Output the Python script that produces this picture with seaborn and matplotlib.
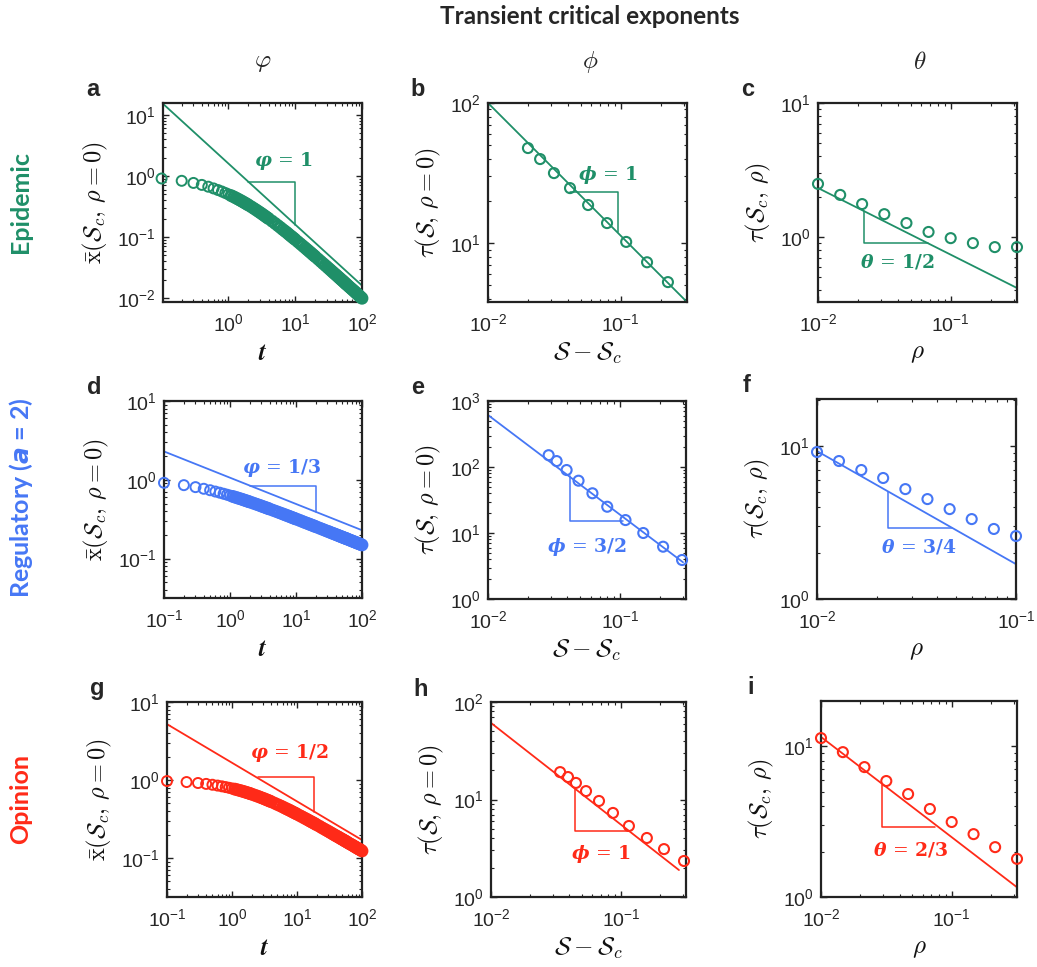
import numpy as np
import pandas as pd
import seaborn as sns
import matplotlib.pyplot as plt
from matplotlib.ticker import LogLocator, NullFormatter

W, H = 1037, 967

GREEN = "#1f8f68"
BLUE = "#4677f5"
RED = "#ff2a18"

# ---- data ----
# time grid of the relaxation curves (panels a, d, g)
t_vals = [0.1, 0.2, 0.3, 0.4, 0.5, 0.6, 0.7, 0.8, 0.9, 1.0,
          1.1, 1.2, 1.3, 1.4, 1.5, 1.6, 1.7, 1.8, 1.9, 2.0,
          2.2, 2.4, 2.6, 2.8, 3.0, 3.2, 3.4, 3.6, 3.8, 4.0,
          4.5, 5.0, 5.5, 6.0, 6.5, 7.0, 7.5, 8.0, 8.5, 9.0, 9.5, 10,
          11, 12, 13, 14, 15, 16, 17, 18, 19, 20,
          22, 24, 26, 28, 30, 32, 34, 36, 38, 40, 42, 44, 46, 48, 50, 52, 54, 56, 58, 60,
          63, 66, 69, 72, 75, 78, 81, 84, 87, 90, 93, 96, 100]

x_epidemic = [0.909, 0.833, 0.769, 0.714, 0.667, 0.625, 0.588, 0.556, 0.526, 0.500,
              0.476, 0.455, 0.435, 0.417, 0.400, 0.385, 0.370, 0.357, 0.345, 0.333,
              0.313, 0.294, 0.278, 0.263, 0.250, 0.238, 0.227, 0.217, 0.208, 0.200,
              0.182, 0.167, 0.154, 0.143, 0.133, 0.125, 0.118, 0.111, 0.105, 0.100, 0.0952, 0.0909,
              0.0833, 0.0769, 0.0714, 0.0667, 0.0625, 0.0588, 0.0556, 0.0526, 0.0500, 0.0476,
              0.0435, 0.0400, 0.0370, 0.0345, 0.0323, 0.0303, 0.0286, 0.0270, 0.0256, 0.0244,
              0.0233, 0.0222, 0.0213, 0.0204, 0.0196, 0.0189, 0.0182, 0.0175, 0.0169, 0.0164,
              0.0156, 0.0149, 0.0143, 0.0137, 0.0132, 0.0127, 0.0122, 0.0118, 0.0114, 0.0110,
              0.0106, 0.0103, 0.0099]

x_regulatory = [0.916, 0.855, 0.807, 0.769, 0.737, 0.709, 0.686, 0.665, 0.647, 0.630,
                0.615, 0.601, 0.589, 0.577, 0.567, 0.557, 0.547, 0.539, 0.530, 0.523,
                0.509, 0.496, 0.485, 0.474, 0.464, 0.455, 0.447, 0.439, 0.432, 0.425,
                0.410, 0.397, 0.385, 0.375, 0.365, 0.357, 0.349, 0.342, 0.335, 0.329, 0.323, 0.318,
                0.309, 0.300, 0.292, 0.285, 0.279, 0.273, 0.268, 0.263, 0.258, 0.254,
                0.246, 0.239, 0.233, 0.227, 0.222, 0.218, 0.213, 0.209, 0.206, 0.202,
                0.199, 0.196, 0.193, 0.190, 0.188, 0.185, 0.183, 0.181, 0.179, 0.177,
                0.174, 0.171, 0.169, 0.166, 0.164, 0.162, 0.160, 0.158, 0.156, 0.155,
                0.153, 0.151, 0.149]

x_opinion = [0.969, 0.941, 0.915, 0.891, 0.869, 0.848, 0.829, 0.811, 0.794, 0.778,
             0.764, 0.750, 0.736, 0.724, 0.712, 0.700, 0.689, 0.679, 0.669, 0.659,
             0.641, 0.625, 0.610, 0.595, 0.582, 0.570, 0.558, 0.547, 0.537, 0.527,
             0.505, 0.485, 0.468, 0.452, 0.437, 0.424, 0.413, 0.402, 0.391, 0.382, 0.373, 0.365,
             0.350, 0.337, 0.325, 0.315, 0.305, 0.296, 0.288, 0.281, 0.274, 0.267,
             0.256, 0.245, 0.236, 0.228, 0.221, 0.214, 0.208, 0.202, 0.197, 0.192,
             0.188, 0.184, 0.180, 0.176, 0.173, 0.170, 0.166, 0.164, 0.161, 0.158,
             0.154, 0.151, 0.148, 0.145, 0.142, 0.139, 0.137, 0.134, 0.132, 0.130,
             0.128, 0.126, 0.123]

# tau versus S - S_c (panels b, e, h)
ds_epidemic = [0.0200, 0.0247, 0.0314, 0.0415, 0.0568, 0.0789, 0.110, 0.158, 0.227]
tau_s_epidemic = [47.7, 39.8, 31.6, 24.7, 18.7, 13.9, 10.2, 7.30, 5.27]
ds_regulatory = [0.0288, 0.0331, 0.0394, 0.0485, 0.0618, 0.080, 0.110, 0.150, 0.212, 0.295]
tau_s_regulatory = [151, 123, 90, 62, 40, 25, 15.7, 10.0, 6.2, 3.9]
ds_opinion = [0.034, 0.0391, 0.045, 0.0538, 0.0677, 0.0867, 0.115, 0.158, 0.214, 0.305]
tau_s_opinion = [19.1, 17.0, 14.8, 12.2, 9.66, 7.28, 5.35, 4.03, 3.10, 2.34]

# tau versus rho (panels c, f, i)
rho_wide = [0.01, 0.0147, 0.0215, 0.0316, 0.0464, 0.0681, 0.1, 0.147, 0.215, 0.316]
rho_narrow = [0.01, 0.0129, 0.0167, 0.0215, 0.0278, 0.0359, 0.0464, 0.0599, 0.0774, 0.1]
tau_rho_epidemic = [2.49, 2.06, 1.76, 1.48, 1.27, 1.09, 0.98, 0.90, 0.84, 0.84]
tau_rho_regulatory = [9.14, 7.98, 6.97, 6.18, 5.23, 4.50, 3.87, 3.33, 2.87, 2.58]
tau_rho_opinion = [11.3, 9.12, 7.26, 5.87, 4.81, 3.83, 3.14, 2.61, 2.14, 1.79]

# power-law guide lines (end points) and slope triangles
fit_x = {"a": [0.1, 100], "b": [0.01, 0.316], "c": [0.01, 0.316],
         "d": [0.1, 100], "e": [0.01, 0.3], "f": [0.01, 0.1],
         "g": [0.1, 100], "h": [0.01, 0.279], "i": [0.01, 0.316]}
fit_y = {"a": [16, 0.016], "b": [100, 3.8], "c": [2.32, 0.416],
         "d": [2.29, 0.229], "e": [613, 3.6], "f": [9.27, 1.69],
         "g": [5.2, 0.17], "h": [61, 1.89], "i": [11.5, 1.16]}
tri_x = {"a": [2, 10], "b": [0.0415, 0.0955], "c": [0.0223, 0.067],
         "d": [2, 20], "e": [0.0415, 0.105], "f": [0.0227, 0.0476],
         "g": [2.5, 18], "h": [0.0443, 0.113], "i": [0.0293, 0.0747]}
tri_y = {"a": [0.8, 0.16], "b": [23.1, 12.0], "c": [1.55, 0.90],
         "d": [0.84, 0.39], "e": [72, 15], "f": [5.0, 2.91],
         "g": [1.1, 0.39], "h": [13.1, 4.75], "i": [5.52, 2.91]}
exp_labels = {"a": r"$\mathbfit{\varphi}\,=\,\mathbf{1}$",
              "b": r"$\mathbfit{\phi}\,=\,\mathbf{1}$",
              "c": r"$\mathbfit{\theta}\,=\,\mathbf{1/2}$",
              "d": r"$\mathbfit{\varphi}\,=\,\mathbf{1/3}$",
              "e": r"$\mathbfit{\phi}\,=\,\mathbf{3/2}$",
              "f": r"$\mathbfit{\theta}\,=\,\mathbf{3/4}$",
              "g": r"$\mathbfit{\varphi}\,=\,\mathbf{1/2}$",
              "h": r"$\mathbfit{\phi}\,=\,\mathbf{1}$",
              "i": r"$\mathbfit{\theta}\,=\,\mathbf{2/3}$"}
label_xy = {"a": (6.7, 1.76), "b": (0.08, 30.6), "c": (0.0397, 0.65),
            "d": (6.1, 1.42), "e": (0.056, 6.1), "f": (0.0325, 2.19),
            "g": (7.8, 2.2), "h": (0.07, 2.76), "i": (0.048, 2.05)}

row_colors = [GREEN, BLUE, RED]
col_titles = [r"$\varphi$", r"$\phi$", r"$\theta$"]

# axes boxes in pixels: left, top, right, bottom
boxes = {"a": (163, 103, 362, 302), "b": (488, 103, 687, 302), "c": (818, 103, 1017, 302),
         "d": (164, 401, 362, 598), "e": (488, 401, 686, 599), "f": (817, 399, 1016, 599),
         "g": (167, 702, 362, 897), "h": (491, 702, 686, 897), "i": (821, 701, 1017, 897)}
limits = {"a": ((0.105, 100), (0.0086, 15.7)), "b": ((0.01, 0.316), (3.8, 100)),
          "c": ((0.01, 0.316), (0.327, 10)), "d": ((0.1, 100), (0.0316, 10)),
          "e": ((0.01, 0.316), (1, 1000)), "f": ((0.01, 0.1), (1, 20.3)),
          "g": ((0.1, 100), (0.0316, 10)), "h": ((0.01, 0.316), (1, 100)),
          "i": ((0.01, 0.316), (1, 19.9))}

sns.set_style("ticks")
plt.rcParams["font.family"] = ["Liberation Sans", "DejaVu Sans"]
plt.rcParams["mathtext.fontset"] = "cm"
plt.rcParams["axes.unicode_minus"] = False

TICK_GRAY = "#262626"


def style_axes(ax, xlim, ylim):
    ax.set_xscale("log")
    ax.set_yscale("log")
    ax.set_xlim(xlim)
    ax.set_ylim(ylim)
    for axis in (ax.xaxis, ax.yaxis):
        axis.set_major_locator(LogLocator(base=10))
        axis.set_minor_locator(LogLocator(base=10, subs=np.arange(2, 10)))
        axis.set_minor_formatter(NullFormatter())
    ax.tick_params(which="both", direction="in", top=True, right=True,
                   color="#222222", labelcolor=TICK_GRAY, labelsize=14)
    ax.tick_params(which="major", length=4, width=1.0, pad=5)
    ax.tick_params(axis="x", which="major", pad=8)
    ax.tick_params(which="minor", length=2.5, width=0.8)
    for sp in ax.spines.values():
        sp.set_linewidth(1.6)
        sp.set_color("#222222")


def scatter_rings(ax, x, y, color, lw):
    sns.scatterplot(x=x, y=y, ax=ax, marker="o", s=52, color=color,
                    facecolor="none", edgecolor=color, linewidth=lw,
                    clip_on=False, zorder=3, legend=False)


def draw_panel(fig, key, x, y, color, xlabel, ylabel, corner, dense=False):
    l, t, r, b = boxes[key]
    ax = fig.add_axes([l / W, 1 - b / H, (r - l) / W, (b - t) / H])
    sns.lineplot(x=fit_x[key], y=fit_y[key], color=color, linewidth=1.3, ax=ax, legend=False)
    if dense:
        # early, well separated rings thin; the crowded tail a bit heavier so it merges
        scatter_rings(ax, x[:10], y[:10], color, 1.4)
        scatter_rings(ax, x[10:], y[10:], color, 2.0)
    else:
        scatter_rings(ax, x, y, color, 1.5)
    x1, x2 = tri_x[key]
    y1, y2 = tri_y[key]
    if corner == "upper":
        ax.plot([x1, x2, x2], [y1, y1, y2], color=color, lw=1.1)
    else:
        ax.plot([x1, x1, x2], [y1, y2, y2], color=color, lw=1.1)
    lx, ly = label_xy[key]
    ax.text(lx, ly, exp_labels[key], color=color, fontsize=13.5, ha="center", va="center",
            math_fontfamily="dejavuserif")
    style_axes(ax, *limits[key])
    ax.set_xlabel(xlabel, fontsize=18, labelpad=4, color="#111111")
    ax.set_ylabel(ylabel, fontsize=17.5, labelpad=5, color="#111111")
    fig.text((l - 70) / W, 1 - (t - 13) / H, key, fontsize=17, fontweight="bold",
             ha="center", va="center")
    return ax


fig = plt.figure(figsize=(W / 100, H / 100), dpi=100)

t_label = r"$\mathbfit{t}$"
s_label = r"$\mathcal{S}-\mathcal{S}_c$"
rho_label = r"$\rho$"
xbar_label = r"$\bar{\mathrm{x}}(\mathcal{S}_c,\,\rho=0)$"
tau_s_label = r"$\tau(\mathcal{S},\,\rho=0)$"
tau_rho_label = r"$\tau(\mathcal{S}_c,\,\rho)$"

relax = [x_epidemic, x_regulatory, x_opinion]
ds = [ds_epidemic, ds_regulatory, ds_opinion]
tau_s = [tau_s_epidemic, tau_s_regulatory, tau_s_opinion]
rho = [rho_wide, rho_narrow, rho_wide]
tau_rho = [tau_rho_epidemic, tau_rho_regulatory, tau_rho_opinion]
keys = [["a", "b", "c"], ["d", "e", "f"], ["g", "h", "i"]]

for i in range(3):
    c = row_colors[i]
    ka, kb, kc = keys[i]
    draw_panel(fig, ka, t_vals, relax[i], c, t_label, xbar_label, "upper", dense=True)
    draw_panel(fig, kb, ds[i], tau_s[i], c, s_label, tau_s_label,
               "upper" if i == 0 else "lower")
    draw_panel(fig, kc, rho[i], tau_rho[i], c, rho_label, tau_rho_label, "lower")

# row and column headings
row_text = ["Epidemic", r"Regulatory ($\mathbfit{a}$ = 2)", "Opinion"]
row_y = [202, 498, 799]
for txt, yy, c in zip(row_text, row_y, row_colors):
    fig.text(21 / W, 1 - yy / H, txt, rotation=90, ha="center", va="center",
             color=c, fontsize=18, fontweight="bold", family="Lato",
             math_fontfamily="dejavusans")

col_x = [263, 590, 920]
for txt, xx in zip(col_titles, col_x):
    fig.text(xx / W, 1 - 62 / H, txt, ha="center", va="center", fontsize=18)

fig.text(590 / W, 1 - 17 / H, "Transient critical exponents", ha="center", va="center",
         fontsize=17.5, fontweight="bold", family="Lato")

fig.savefig("out.png", dpi=100)
